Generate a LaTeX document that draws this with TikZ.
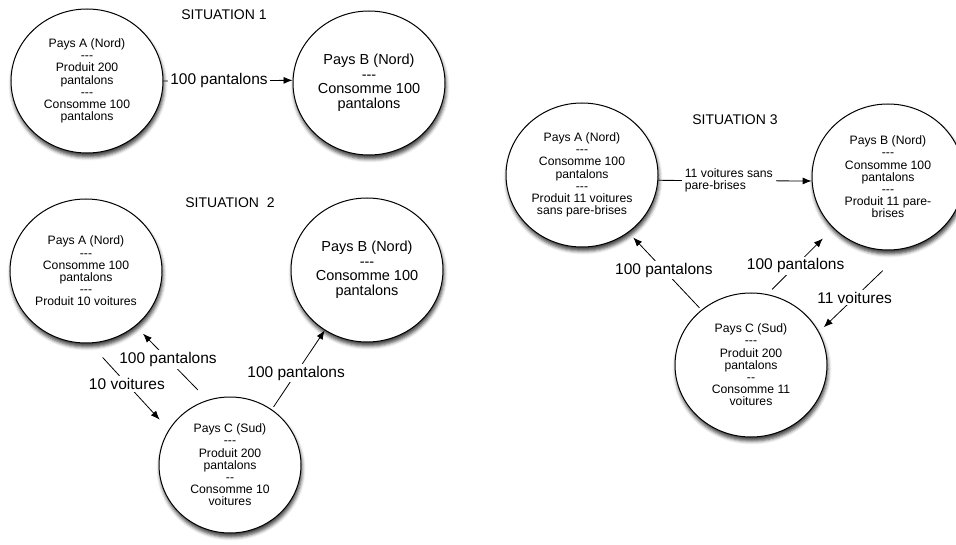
\documentclass[tikz,border=0pt]{standalone}
\usepackage{fontspec}
\setmainfont{Liberation Sans}
\usetikzlibrary{shapes.geometric,arrows.meta,shadows.blur}

\newcommand{\septrois}{-{}-{}-}
\newcommand{\sepdeux}{-{}-}

\begin{document}
\begin{tikzpicture}[x=1pt, y=-1pt]
        % Define block styles
        \tikzstyle{pays} = [ellipse, draw, line width=1pt, fill=white, minimum width=152pt, minimum height=144pt, inner sep=0pt, align=center, font=\fontsize{12.2}{12.2}\selectfont, blur shadow={shadow xshift=1pt, shadow yshift=-4pt, shadow blur radius=3.5pt, shadow opacity=75}]
        \tikzstyle{grand} = [font=\fontsize{14.5}{14.5}\selectfont]
        \tikzstyle{titre} = [font=\fontsize{14}{14}\selectfont]
        \tikzstyle{line} = [draw, line width=0.8pt, -{Latex[length=9pt, width=7pt]}]
        \tikzstyle{flux} = [fill=white, inner sep=2pt, font=\fontsize{15.5}{15.5}\selectfont]
        \tikzstyle{petit} = [fill=white, inner sep=3pt, align=left, font=\fontsize{12.2}{12.2}\selectfont]

        \useasboundingbox (0,0) rectangle (956,545);

        % Titles
        \node [titre] (Titre1) at (224,15) {SITUATION 1};
        \node [titre] (Titre2) at (230,203) {SITUATION\ \ 2};
        \node [titre] (Titre3) at (735,120) {SITUATION 3};

        % Situation 1
        \node [pays] (A1) at (87,81) {Pays A (Nord)\\\septrois\\Produit 200\\pantalons\\\septrois\\Consomme 100\\pantalons};
        \node [pays, grand] (B1) at (369,83) {Pays B (Nord)\\\septrois\\Consomme 100\\pantalons};

        % Situation 2
        \node [pays] (A2) at (86,271) {Pays A (Nord)\\\septrois\\Consomme 100\\pantalons\\\septrois\\Produit 10 voitures};
        \node [pays, grand] (B2) at (367,270) {Pays B (Nord)\\\septrois\\Consomme 100\\pantalons};
        \node [pays, minimum width=142pt, minimum height=136pt] (C2) at (230,465) {Pays C (Sud)\\\septrois\\Produit 200\\pantalons\\\sepdeux\\Consomme 10\\voitures};

        % Situation 3
        \node [pays] (A3) at (582,175) {Pays A (Nord)\\\septrois\\Consomme 100\\pantalons\\\septrois\\Produit 11 voitures\\sans pare-brises};
        \node [pays, minimum height=146pt] (B3) at (888,177) {Pays B (Nord)\\\septrois\\Consomme 100\\pantalons\\\septrois\\Produit 11 pare-\\brises};
        \node [pays] (C3) at (751,365) {Pays C (Sud)\\\septrois\\Produit 200\\pantalons\\\sepdeux\\Consomme 11\\voitures};

        % Arrows
        \path [line] (A1.east) -- node [flux, pos=0.43] (L1) {100 pantalons} (B1.178);

        \path [line, shorten <=14pt, shorten >=10.5pt] (C2.109) -- node [flux, pos=0.55] (L2a) {100 pantalons} (A2.-48);
        \path [line, shorten <=19pt, shorten >=13.5pt] (A2.-87.5) -- node [flux, pos=0.47] (L2b) {10 voitures} (C2.150);
        \path [line, shorten <=3pt] (C2.53) -- node [flux, pos=0.46] (L2c) {100 pantalons} (B2.-125);

        \path [line] (A3.-4) -- node [petit, pos=0.46] (L3a) {11 voitures sans\\pare-brises} (B3.183);
        \path [line, shorten <=2.7pt, shorten >=6.8pt] (C3.132) -- node [flux, pos=0.515] (L3b) {100 pantalons} (A3.-51);
        \path [line, shorten <=6.7pt, shorten >=14.5pt] (C3.77) -- node [flux, pos=0.43] (L3c) {100 pantalons} (B3.-137);
        \path [line, shorten <=32pt, shorten >=6.5pt] (B3.-76) -- node [flux, pos=0.59] (L3d) {11 voitures} (C3.26.5);
\end{tikzpicture}
\end{document}
